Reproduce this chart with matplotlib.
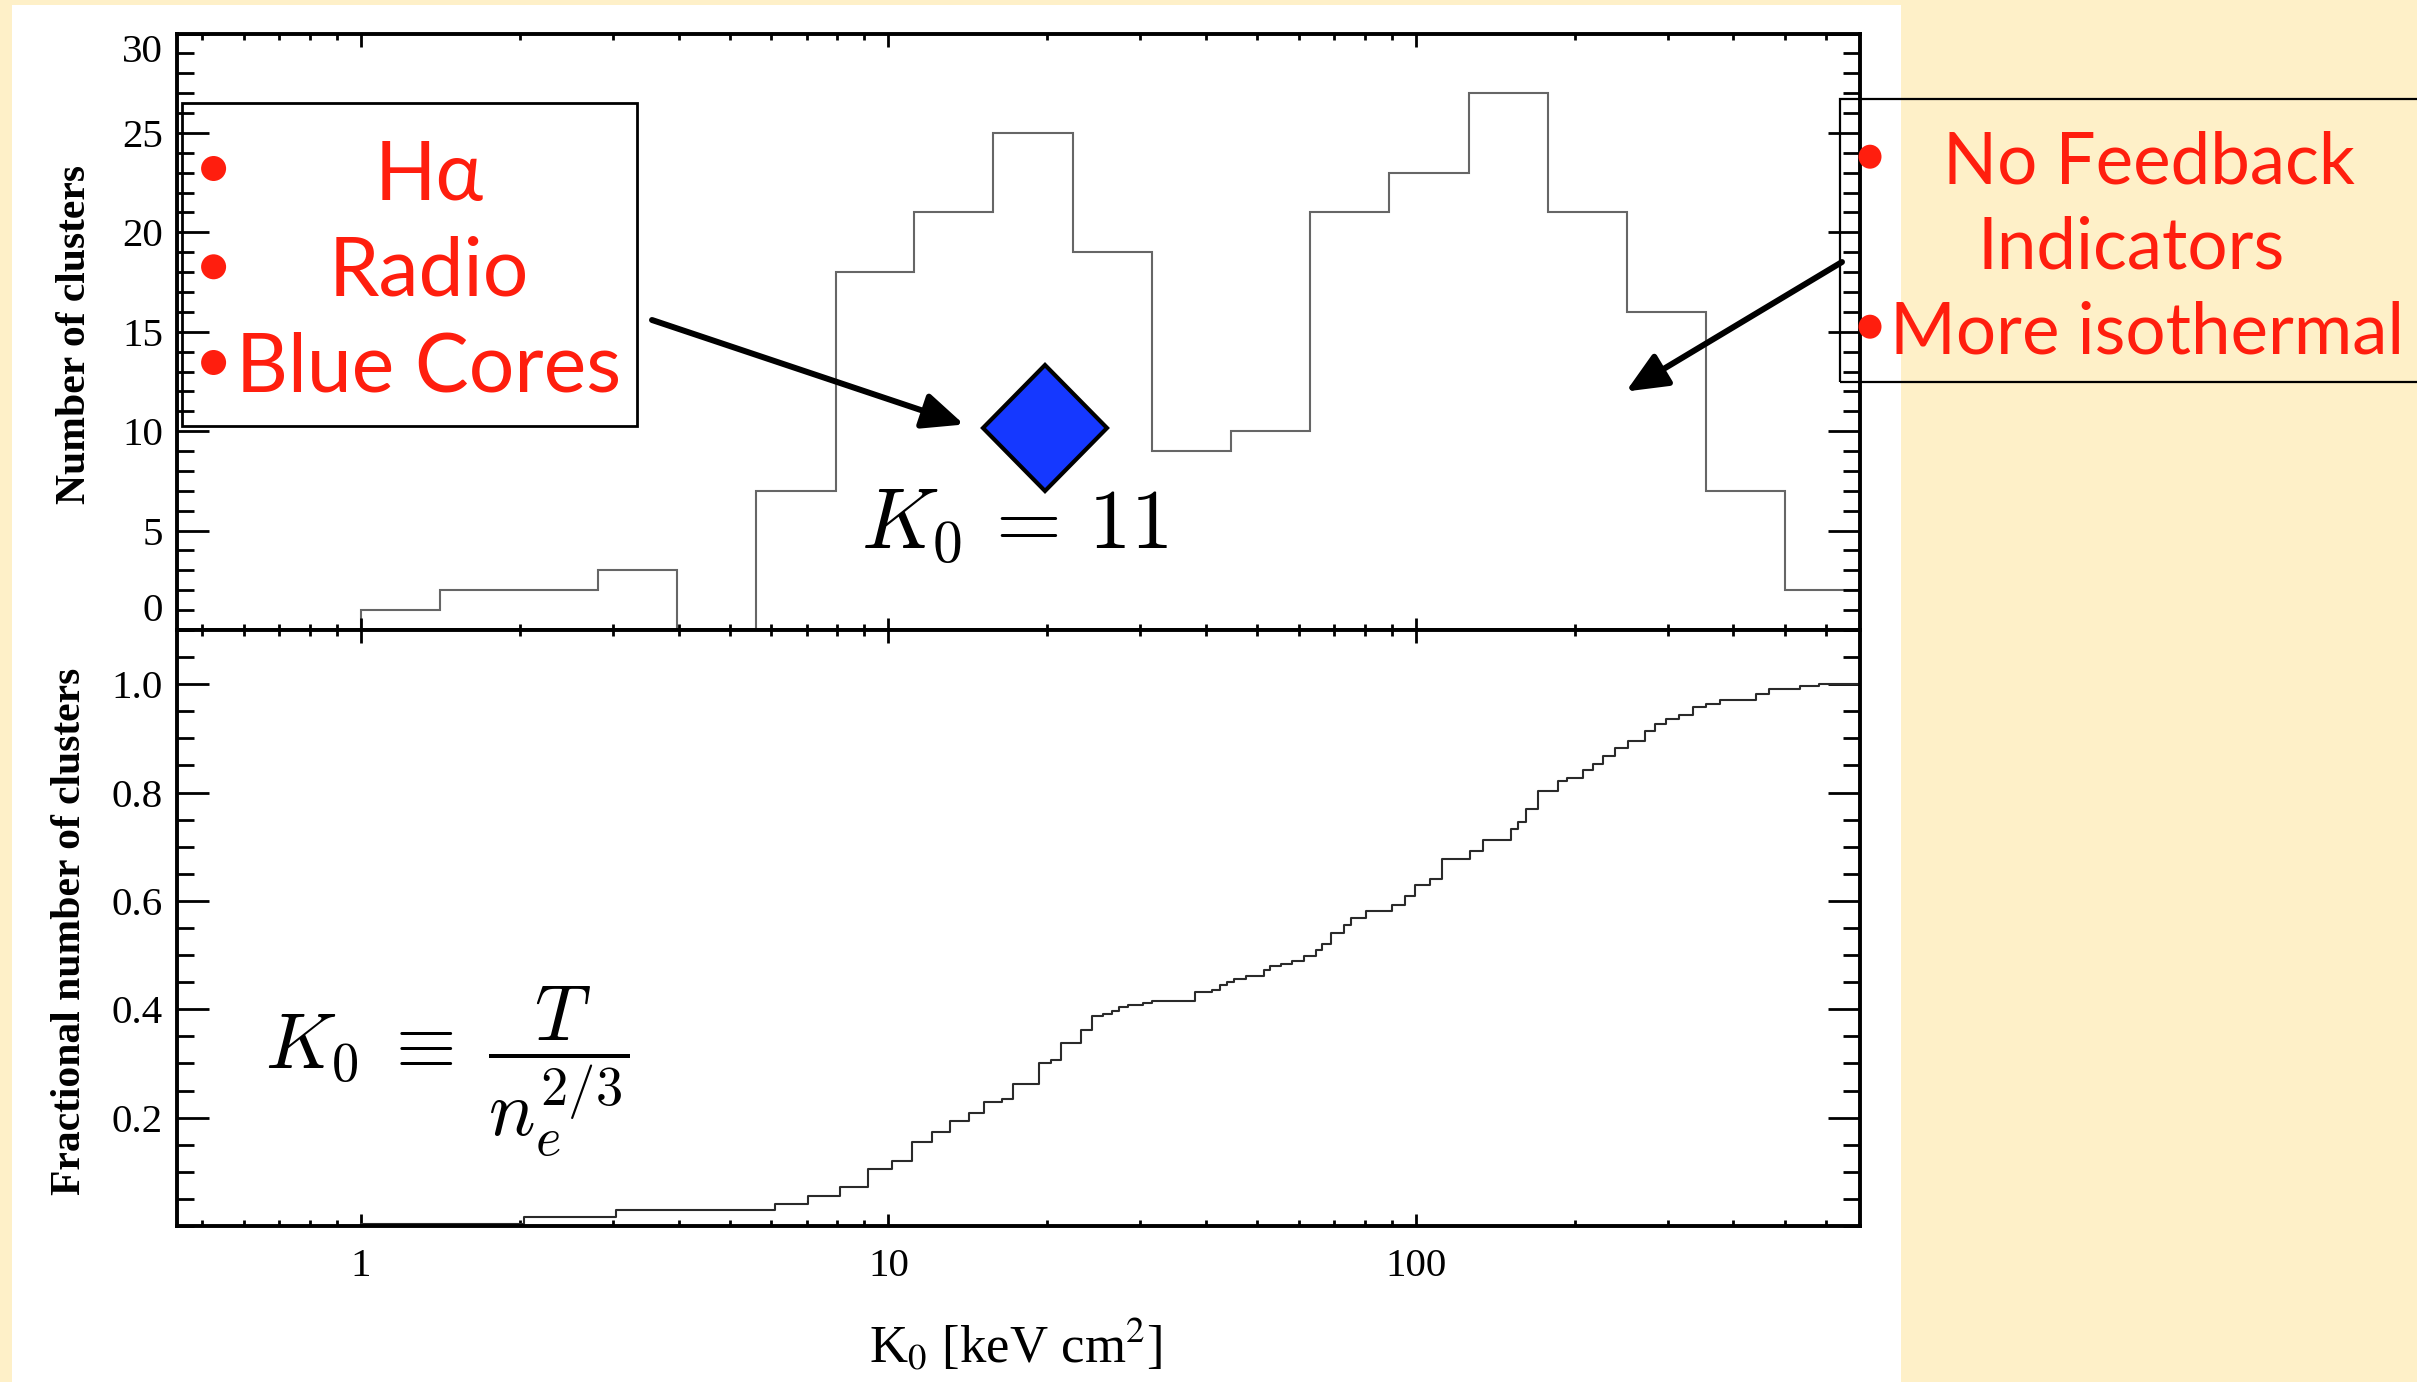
import numpy as np
import matplotlib
matplotlib.use('Agg')
import matplotlib.pyplot as plt
from matplotlib.patches import Rectangle, Ellipse, Polygon, FancyArrowPatch
from matplotlib.ticker import FixedLocator, MultipleLocator, LogLocator, NullFormatter

plt.rcParams['mathtext.fontset'] = 'cm'

W, H = 2417, 1382

# ---------------- data ----------------
bin_edges = [1.0, 1.41, 2.0, 2.82, 3.98, 5.62, 7.94, 11.2, 15.8, 22.4, 31.6,
             44.7, 63.1, 89.1, 126, 178, 251, 355, 501, 708]
counts = [1, 2, 2, 3, 0, 7, 18, 21, 25, 19, 9, 10, 21, 23, 27, 21, 16, 7, 2]

cdf_k = [1.0, 2.04, 3.05, 6.1, 7.05, 8.1, 9.15, 10.15, 11.1, 12.1, 13.1, 14.2,
         15.2, 16.4, 17.2, 19.3, 20.3, 21.2, 23.2, 24.3, 25.5, 26.5, 27.4, 28.4,
         30.4, 31.6, 38.2, 41.0, 42.6, 43.9, 45.2, 47.7, 51.5, 53.0, 55.6, 58.2,
         61.3, 64.8, 66.3, 68.9, 73.2, 75.5, 80.3, 90.0, 95.3, 99.6, 106.4, 111.9,
         126.5, 134, 151.8, 156, 162, 170.6, 186, 193, 207, 216.5, 226, 238, 252,
         271.6, 283.6, 298.5, 316, 335, 355.5, 377, 442, 468, 534, 582]
cdf_frac = [0.004, 0.017, 0.030, 0.041, 0.056, 0.072, 0.106, 0.120, 0.155, 0.173,
            0.193, 0.208, 0.229, 0.234, 0.262, 0.301, 0.306, 0.338, 0.361, 0.387,
            0.392, 0.396, 0.404, 0.407, 0.411, 0.416, 0.431, 0.436, 0.445, 0.450,
            0.455, 0.461, 0.472, 0.479, 0.484, 0.490, 0.498, 0.510, 0.521, 0.541,
            0.556, 0.569, 0.581, 0.593, 0.609, 0.630, 0.640, 0.677, 0.693, 0.712,
            0.733, 0.746, 0.770, 0.803, 0.821, 0.827, 0.841, 0.852, 0.867, 0.883,
            0.895, 0.913, 0.926, 0.935, 0.944, 0.957, 0.963, 0.971, 0.981, 0.992,
            0.996, 1.000]

x_ticks = [1, 10, 100]
x_tick_labels = ['1', '10', '100']
top_yticks = [0, 5, 10, 15, 20, 25, 30]
top_ytick_labels = ['0', '5', '10', '15', '20', '25', '30']
bot_yticks = [0.2, 0.4, 0.6, 0.8, 1.0]
bot_ytick_labels = ['0.2', '0.4', '0.6', '0.8', '1.0']

left_items = ['H\u03b1', 'Radio', 'Blue Cores']
right_items = ['No Feedback', 'Indicators', 'More isothermal']

# ---------------- figure ----------------
fig = plt.figure(figsize=(W / 100, H / 100), dpi=100, facecolor='#FEF0C8')


def fx(x):
    return x / W


def fy(y):
    return 1 - y / H


fig.add_artist(Rectangle((fx(12), fy(1382)), (1901 - 12) / W, (1382 - 5) / H,
                         transform=fig.transFigure, facecolor='white',
                         edgecolor='none', zorder=-10))

L, R, T, M, B = 177, 1860, 33.5, 630, 1226
ax1 = fig.add_axes([fx(L), fy(M), (R - L) / W, (M - T) / H])
ax2 = fig.add_axes([fx(L), fy(B), (R - L) / W, (B - M) / H])

tickfont = {'family': 'Liberation Serif', 'size': 29.5}
for ax in (ax1, ax2):
    ax.set_xscale('log')
    ax.set_xlim(0.448, 695)
    ax.xaxis.set_major_locator(FixedLocator(x_ticks))
    ax.xaxis.set_minor_locator(LogLocator(base=10, subs=np.arange(2, 10), numticks=50))
    ax.xaxis.set_minor_formatter(NullFormatter())
    ax.tick_params(which='both', direction='in', top=True, right=True, color='black')
    ax.tick_params(axis='y', which='major', length=23, width=2, pad=10)
    ax.tick_params(axis='y', which='minor', length=12, width=2)
    ax.tick_params(axis='x', which='major', length=9, width=2, pad=16)
    ax.tick_params(axis='x', which='minor', length=4.5, width=2)
    for s in ax.spines.values():
        s.set_linewidth(2.8)

# top histogram
ax1.stairs(counts, bin_edges, color='#666666', lw=1.5)
ax1.set_ylim(0, 30)
ax1.set_yticks(top_yticks, labels=top_ytick_labels, fontdict=tickfont)
ax1.yaxis.set_minor_locator(MultipleLocator(1))
ax1.tick_params(labelbottom=False)
ylabs = ax1.get_yticklabels()
ylabs[0].set_va('bottom')
ylabs[-1].set_va('top')

# bottom cumulative
xr = ax2.get_xlim()[1]
ax2.step(cdf_k + [xr], cdf_frac + [cdf_frac[-1]], where='post', color='#2a2a2a', lw=1.5)
ax2.set_ylim(0, 1.1)
ax2.set_yticks(bot_yticks, labels=bot_ytick_labels, fontdict=tickfont)
ax2.yaxis.set_minor_locator(MultipleLocator(0.05))
ax2.set_xticks(x_ticks, labels=x_tick_labels, fontdict=tickfont)

# axis labels
fig.text(fx(75), fy(335), 'Number of clusters', rotation=90, ha='center', va='center',
         fontsize=30, family='Liberation Serif', fontweight='bold')
fig.text(fx(70), fy(931), 'Fractional number of clusters', rotation=90, ha='center',
         va='center', fontsize=30, family='Liberation Serif', fontweight='bold')
fig.text(fx(1016), fy(1345), r'K$_0$ [keV cm$^2$]', ha='center', va='center',
         fontsize=38, family='Liberation Serif', math_fontfamily='stix')

# annotations
red = '#FF1E0E'
redfont = ['Lato', 'DejaVu Sans']
fig.add_artist(Rectangle((fx(182), fy(425.7)), (636.5 - 182) / W, (425.7 - 103.4) / H,
                         transform=fig.transFigure, facecolor='none',
                         edgecolor='black', lw=2))
for txt, yb in zip(left_items, [200, 295.5, 391]):
    fig.text(fx(429), fy(yb), txt, ha='center', va='baseline', fontsize=58,
             family=redfont, color=red)
for yc in [168.5, 266.8, 362.5]:
    fig.add_artist(Ellipse((fx(213.6), fy(yc)), 25 / W, 25 / H,
                           transform=fig.transFigure, facecolor=red, edgecolor='none'))

fig.add_artist(Rectangle((fx(1840), fy(382.3)), (2430 - 1840) / W, (382.3 - 99.3) / H,
                         transform=fig.transFigure, facecolor='none',
                         edgecolor='black', lw=1.6, clip_on=False))
for txt, xc, yb in zip(right_items, [2149, 2131, 2147], [183.3, 268.3, 353]):
    fig.text(fx(xc), fy(yb), txt, ha='center', va='baseline', fontsize=51,
             family=redfont, color=red)
for yc in [156.7, 326.7]:
    fig.add_artist(Ellipse((fx(1870), fy(yc)), 23 / W, 24 / H,
                           transform=fig.transFigure, facecolor=red, edgecolor='none'))

# arrows
for (x0, y0), (x1, y1) in [((652, 320), (964, 424.5)), ((1842, 262), (1626, 391.5))]:
    fig.add_artist(FancyArrowPatch((fx(x0), fy(y0)), (fx(x1), fy(y1)),
                                   transform=fig.transFigure,
                                   arrowstyle='-|>,head_length=25,head_width=11',
                                   mutation_scale=1, lw=4.3, color='black',
                                   shrinkA=0, shrinkB=0))

# diamond
cx, cy = 1045, 428
fig.add_artist(Polygon([(fx(cx - 62), fy(cy)), (fx(cx), fy(cy - 63)),
                        (fx(cx + 62), fy(cy)), (fx(cx), fy(cy + 63))],
                       closed=True, transform=fig.transFigure,
                       facecolor='#1538FF', edgecolor='black', lw=3))
fig.text(fx(1015), fy(548.6), r'$K_0\, =\, 11$', ha='center', va='baseline', fontsize=61)
fig.text(fx(447), fy(1069.5), r'$K_0 \;\equiv\; \dfrac{T}{n_e^{2/3}}$', ha='center',
         va='baseline', fontsize=56)

fig.savefig('out.png', dpi=100, facecolor=fig.get_facecolor())
